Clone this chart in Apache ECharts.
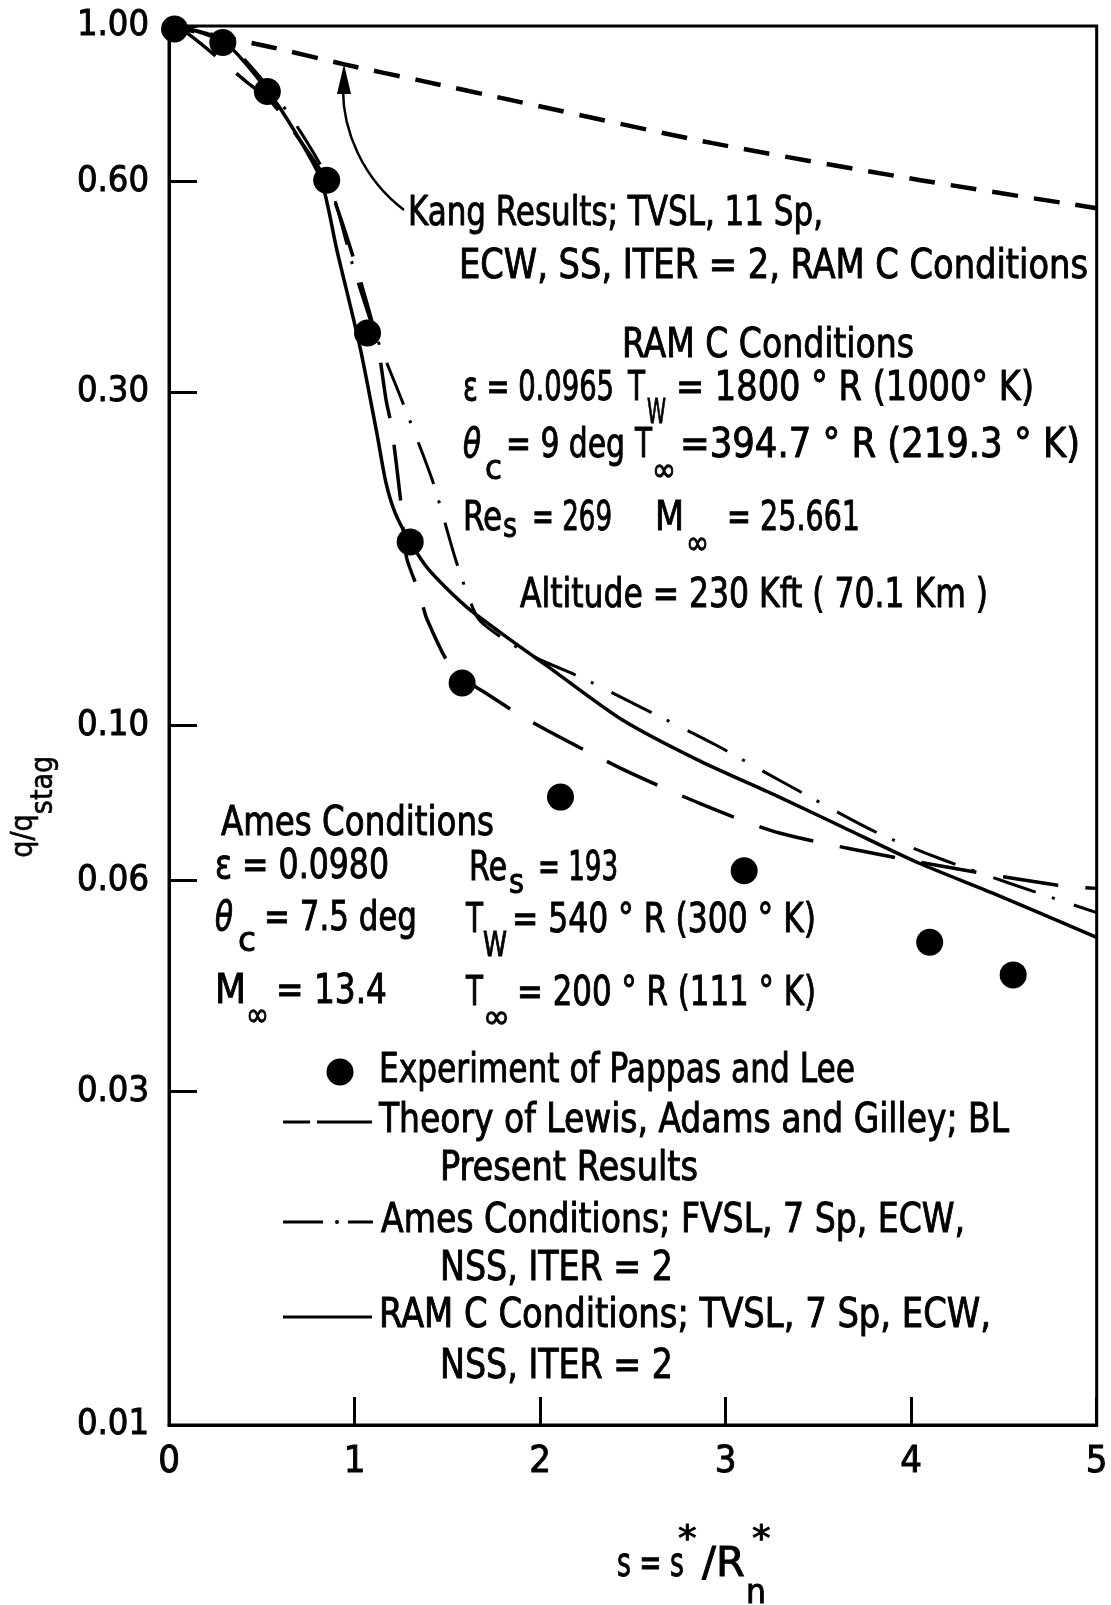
<!DOCTYPE html>
<html>
<head>
<meta charset="UTF-8">
<title>q/qstag vs s</title>
<script src="https://cdn.jsdelivr.net/npm/echarts@6/dist/echarts.min.js"></script>
<style>
html, body { margin: 0; padding: 0; background: #fff; }
#main { width: 1111px; height: 1605px; }
</style>
</head>
<body>
<div id="main"></div>
<script type="text/javascript">
// experiment of Pappas and Lee (circles)
var expS = [0.03, 0.29, 0.53, 0.85, 1.07, 1.30, 1.58, 2.11, 3.10, 4.10, 4.55];
var expQ = [0.99, 0.947, 0.806, 0.602, 0.364, 0.183, 0.115, 0.079, 0.062, 0.049, 0.044];

// Kang results, TVSL 11 Sp (short dashes)
var kangS = [0, 0.54, 0.94, 1.35, 1.82, 2.93, 4.05, 5.0];
var kangQ = [1.0, 0.934, 0.882, 0.836, 0.786, 0.680, 0.602, 0.549];

// theory of Lewis, Adams and Gilley (long dashes)
var lewisS = [0, 0.10, 0.42, 0.55, 0.70, 0.85, 0.99, 1.12, 1.17, 1.20, 1.25, 1.28, 1.35, 1.39, 1.53, 1.69, 1.96, 2.43, 2.86, 3.29, 4.04, 4.79, 5.0];
var lewisQ = [1.0, 0.976, 0.831, 0.78, 0.69, 0.60, 0.47, 0.355, 0.292, 0.267, 0.208, 0.174, 0.1545, 0.142, 0.120, 0.112, 0.101, 0.087, 0.0774, 0.0702, 0.0638, 0.0591, 0.0585];

// present results, Ames conditions FVSL (dash-dot)
var amesS = [0, 0.15, 0.31, 0.55, 0.70, 0.86, 0.99, 1.08, 1.14, 1.24, 1.42, 1.55, 1.66, 1.75, 1.95, 2.24, 2.55, 2.95, 3.29, 3.81, 4.15, 4.53, 5.0];
var amesQ = [1.0, 0.985, 0.95, 0.81, 0.712, 0.60, 0.455, 0.383, 0.347, 0.2985, 0.224, 0.171, 0.143, 0.136, 0.126, 0.1165, 0.106, 0.0937, 0.0835, 0.0704, 0.0646, 0.0595, 0.054];

// present results, RAM C conditions TVSL (solid)
var ramS = [0, 0.15, 0.31, 0.53, 0.68, 0.82, 0.905, 1.03, 1.12, 1.17, 1.22, 1.30, 1.40, 1.60, 1.85, 2.05, 2.44, 2.86, 3.29, 3.63, 4.04, 4.44, 5.0];
var ramQ = [1.0, 0.983, 0.944, 0.809, 0.705, 0.602, 0.478, 0.347, 0.262, 0.222, 0.201, 0.183, 0.167, 0.148, 0.132, 0.121, 0.102, 0.089, 0.079, 0.0716, 0.0636, 0.0576, 0.0498];

var yTicks = [0.01, 0.03, 0.06, 0.1, 0.3, 0.6, 1];

var FONT = "'Liberation Sans Narrow', 'DejaVu Sans Condensed', 'Liberation Sans', sans-serif";
var ctx = document.createElement('canvas').getContext('2d');

function pairs(xs, ys) {
	return xs.map(function(x, i) { return [x, ys[i]]; });
}

// text squeezed to run from x1 to x2 (the original lettering is condensed)
function fit(x1, x2, y, s, size, extra) {
	size = size || 40;
	var st = { text: s, fill: '#000', stroke: '#000', lineWidth: 0.9, fontSize: size, fontFamily: FONT, align: 'left', verticalAlign: 'middle' };
	if (extra) for (var k in extra) st[k] = extra[k];
	ctx.font = (st.fontStyle ? st.fontStyle + ' ' : '') + size + 'px ' + FONT;
	var w = ctx.measureText(s).width;
	return { type: 'text', x: x1, y: y, scaleX: Math.min(1.15, (x2 - x1) / w), silent: true, style: st };
}

function seg(x1, y1, x2, y2, w) {
	return { type: 'line', silent: true, shape: { x1: x1, y1: y1, x2: x2, y2: y2 }, style: { stroke: '#000', lineWidth: w || 3 } };
}

var notes = [
	// Kang label + arrow
	fit(408, 823, 215, 'Kang Results; TVSL, 11 Sp,'),
	fit(459, 1088, 268, 'ECW, SS, ITER = 2, RAM C Conditions'),
	{ type: 'bezierCurve', silent: true,
		shape: { x1: 404, y1: 210, cpx1: 362, cpy1: 178, cpx2: 343, cpy2: 130, x2: 343, y2: 90 },
		style: { stroke: '#000', lineWidth: 2.5, fill: null } },
	{ type: 'polygon', silent: true, shape: { points: [[344, 64], [337, 94], [351, 94]] }, style: { fill: '#000' } },

	// RAM C block
	fit(622, 914, 347, 'RAM C Conditions'),
	fit(463, 614, 390, 'ε = 0.0965'), fit(628, 645, 390, 'T'), fit(647, 666, 414, 'W', 34), fit(676, 1034, 390, '= 1800 ° R (1000° K)'),
	fit(463, 481, 447, 'θ', 40, { fontStyle: 'italic' }), fit(485, 502, 470, 'c', 34), fit(506, 625, 447, '= 9 deg'),
	fit(635, 652, 447, 'T'), fit(652, 676, 472, '∞', 34), fit(680, 1080, 447, '=394.7 ° R (219.3 ° K)'),
	fit(463, 502, 520, 'Re'), fit(503, 517, 528, 's', 34), fit(532, 612, 520, '= 269'),
	fit(655, 684, 520, 'M'), fit(686, 709, 545, '∞', 34), fit(727, 860, 520, '= 25.661'),
	fit(520, 988, 597, 'Altitude = 230 Kft ( 70.1 Km )'),

	// Ames block
	fit(221, 494, 825, 'Ames Conditions'),
	fit(215, 389, 868, 'ε = 0.0980'), fit(469, 507, 870, 'Re'), fit(509, 524, 884, 's', 34), fit(538, 618, 870, '= 193'),
	fit(215, 233, 920, 'θ', 40, { fontStyle: 'italic' }), fit(238, 256, 942, 'c', 34), fit(264, 417, 920, '= 7.5 deg'),
	fit(466, 483, 922, 'T'), fit(483, 507, 947, 'W', 34), fit(512, 816, 922, '= 540 ° R (300 ° K)'),
	fit(215, 246, 993, 'M'), fit(246, 269, 1017, '∞', 34), fit(276, 387, 993, '= 13.4'),
	fit(466, 483, 995, 'T'), fit(483, 510, 1019, '∞', 34), fit(517, 816, 995, '= 200 ° R (111 ° K)'),

	// legend
	{ type: 'circle', silent: true, shape: { cx: 340, cy: 1072, r: 13.5 }, style: { fill: '#000' } },
	fit(379, 855, 1072, 'Experiment of Pappas and Lee'),
	seg(283, 1122, 310, 1122), seg(317, 1122, 372, 1122),
	fit(379, 1009, 1122, 'Theory of Lewis, Adams and Gilley; BL'),
	fit(440, 698, 1170, 'Present Results'),
	seg(283, 1222, 323, 1222), { type: 'circle', silent: true, shape: { cx: 337, cy: 1222, r: 2 }, style: { fill: '#000' } }, seg(348, 1222, 373, 1222),
	fit(381, 965, 1222, 'Ames Conditions; FVSL, 7 Sp, ECW,'),
	fit(440, 673, 1270, 'NSS, ITER = 2'),
	seg(283, 1317, 372, 1317),
	fit(379, 991, 1317, 'RAM C Conditions; TVSL, 7 Sp, ECW,'),
	fit(440, 673, 1368, 'NSS, ITER = 2'),

	// x axis title
	fit(617, 684, 1566, 's = s'), fit(678, 698, 1541, '*', 36), fit(702, 745, 1566, '/R'),
	fit(752, 772, 1541, '*', 36), fit(746, 766, 1594, 'n', 34),

	// y axis title (rotated)
	{ type: 'text', x: 24, y: 836, rotation: Math.PI / 2, silent: true,
		style: { text: 'q/q', fill: '#000', stroke: '#000', lineWidth: 0.6, fontSize: 30, fontFamily: FONT, align: 'center', verticalAlign: 'middle' } },
	{ type: 'text', x: 44, y: 785, rotation: Math.PI / 2, silent: true,
		style: { text: 'stag', fill: '#000', stroke: '#000', lineWidth: 0.6, fontSize: 30, fontFamily: FONT, align: 'center', verticalAlign: 'middle' } }
];

var lineBase = { type: 'line', showSymbol: false, smooth: 0.25, silent: true };

var chart = echarts.init(document.getElementById('main'));
chart.setOption({
	backgroundColor: '#fff',
	animation: false,
	textStyle: { fontFamily: FONT, color: '#000' },
	grid: { left: 169, right: 13, top: 26, bottom: 180, show: true, borderColor: '#000', borderWidth: 3 },
	xAxis: {
		type: 'value', min: 0, max: 5, interval: 1,
		axisLine: { lineStyle: { color: '#000', width: 3 } },
		axisTick: { inside: true, length: 28, lineStyle: { color: '#000', width: 3 } },
		axisLabel: { fontSize: 38, color: '#000', margin: 18, fontFamily: FONT, textBorderColor: '#000', textBorderWidth: 0.9 },
		splitLine: { show: false }
	},
	yAxis: {
		type: 'log', logBase: 10, min: 0.01, max: 1,
		axisLine: { show: true, lineStyle: { color: '#000', width: 3 } },
		axisTick: { show: true, inside: true, length: 28, lineStyle: { color: '#000', width: 3 }, customValues: yTicks },
		axisLabel: { customValues: yTicks, fontSize: 36, color: '#000', margin: 20, fontFamily: FONT,
			textBorderColor: '#000', textBorderWidth: 0.9,
			formatter: function(v) { return v.toFixed(2); } },
		splitLine: { show: false },
		minorTick: { show: false }
	},
	series: [
		Object.assign({}, lineBase, { name: 'Kang', data: pairs(kangS, kangQ),
			lineStyle: { color: '#000', width: 4.5, type: [26, 16] } }),
		Object.assign({}, lineBase, { name: 'Lewis', data: pairs(lewisS, lewisQ),
			lineStyle: { color: '#000', width: 3.5, type: [56, 27] } }),
		Object.assign({}, lineBase, { name: 'Ames FVSL', data: pairs(amesS, amesQ),
			lineStyle: { color: '#000', width: 3, type: [45, 17, 3, 20] } }),
		Object.assign({}, lineBase, { name: 'RAM C TVSL', data: pairs(ramS, ramQ),
			lineStyle: { color: '#000', width: 3.5 } }),
		{ type: 'scatter', name: 'Experiment', data: pairs(expS, expQ), symbol: 'circle', symbolSize: 27,
			itemStyle: { color: '#000', opacity: 1 }, z: 5, silent: true, clip: false }
	],
	graphic: notes
});
</script>
</body>
</html>
